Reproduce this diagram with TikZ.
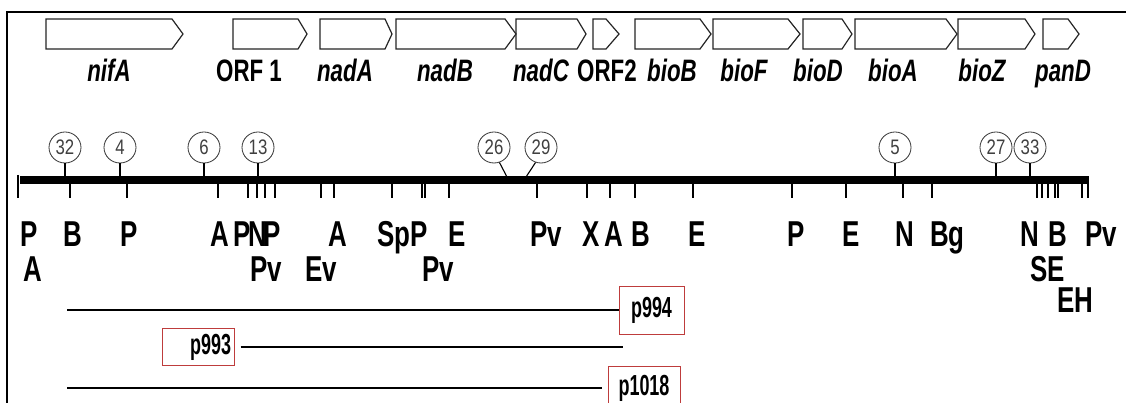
\documentclass[tikz,border=0pt]{standalone}
\usepackage{fontspec}
\setmainfont{Liberation Sans}
\newfontfamily\labfont[FakeStretch=0.72]{Liberation Sans}
\newfontfamily\plainfont{Liberation Sans}
\newfontfamily\numfont[FakeStretch=0.8]{Liberation Sans}
\newfontfamily\boxfont[FakeStretch=0.62]{Liberation Sans}
\usetikzlibrary{shapes.geometric}
\definecolor{boxred}{RGB}{190,60,60}
\begin{document}
\begin{tikzpicture}[x=1pt,y=-1pt,
 gene/.style={draw=black!85, line width=1.2pt},
 genelab/.style={anchor=base, inner sep=0, font=\labfont\fontsize{31}{33}\selectfont\bfseries\itshape},
 orflab/.style={anchor=base, inner sep=0, font=\labfont\fontsize{31}{33}\selectfont\bfseries},
 rlab/.style={anchor=base west, inner sep=0, font=\labfont\fontsize{36}{38}\selectfont\bfseries},
 site/.style={ellipse, draw=black!80, line width=0.8pt, minimum width=32pt, minimum height=31pt, inner sep=0pt, font=\numfont\fontsize{21}{22}\selectfont, text=black!75},
 stem/.style={line width=1.1pt},
 tick/.style={line width=1.2pt},
 clone/.style={line width=1.3pt},
 rbox/.style={draw=boxred, line width=1pt, fill=white, font=\boxfont\fontsize{29}{30}\selectfont\bfseries, inner sep=0pt}
]
\useasboundingbox (0,0) rectangle (1126,403);
\fill[white] (0,0) rectangle (1126,403);
% frame
\draw[line width=1.2pt] (7,403) -- (7,12) -- (1126,12);
% gene arrows: start/body end/tip
\foreach \a/\b/\c in {46/172/183, 233/298/307, 320/385/392, 396/505/516, 516/577/586, 593/606/619, 635/700/711, 713/788/800, 803/842/852, 855/946/957, 958/1025/1035, 1043/1068/1079}
  {\draw[gene] (\a,19) -- (\b,19) -- (\c,34) -- (\b,49) -- (\a,49) -- cycle;}
% gene labels
\node[genelab] (gnifA) at (109,82) {nifA};
\node[anchor=base, inner sep=0, font=\labfont\fontsize{31}{33}\selectfont\bfseries] (gorf1) at (249,82) {ORF\hspace{6pt}1};
\node[genelab] (gnadA) at (345,82) {nadA};
\node[genelab] (gnadB) at (445,82) {nadB};
\node[genelab] (gnadC) at (541,82) {nadC};
\node[orflab] (gorf2) at (607,82) {ORF2};
\node[genelab] (gbioB) at (672,82) {bioB};
\node[genelab] (gbioF) at (744,82) {bioF};
\node[genelab] (gbioD) at (818,82) {bioD};
\node[genelab] (gbioA) at (893,82) {bioA};
\node[genelab] (gbioZ) at (982,82) {bioZ};
\node[genelab] (gpanD) at (1063,82) {panD};
% map bar
\draw[line width=8pt] (20,180.5) -- (1089,180.5);
\draw[tick] (18,175) -- (18,198);
\foreach \x in {70,127,218,248,257,265,275,321,334,392,422,425,449,537,587,610,635,693,792,846,903,932,1037,1042,1048,1055,1058,1082,1088}
  {\draw[tick] (\x,184) -- (\x,198);}
% insertion sites
\foreach \n/\x in {32/65, 4/120, 6/204, 13/258, 5/895, 27/996, 33/1030}
  {\node[site] (s\n) at (\x,147.5) {\n};
   \coordinate (t\n) at (\x,177);
   \draw[stem] (s\n.south) -- (t\n);}
\node[site] (s26) at (494,147.5) {26};
\coordinate (t26) at (507,177);
\draw[stem] (s26.-70) -- (t26);
\node[site] (s29) at (541,147.5) {29};
\coordinate (t29) at (526,177);
\draw[stem] (s29.-110) -- (t29);
% restriction labels
\foreach \x/\t [count=\i] in {20/P, 63/B, 120/P, 210/A, 233/P\kern-2.5pt N\kern-3pt P, 328/A, 377/SpP, 448/E, 530/Pv, 582/X, 604/A, 631/B, 688/E, 787/P, 842/E, 895/N, 930/Bg, 1020/N, 1048/B, 1085/Pv}
  {\node[rlab] (ra\i) at (\x,247) {\t};}
\foreach \x/\t [count=\i] in {23/A, 250/Pv, 305/Ev, 422/Pv, 1030/SE}
  {\node[rlab] (rb\i) at (\x,281) {\t};}
\node[rlab] (rc1) at (1057,312) {EH};
% clones
\node[rbox, minimum width=65pt, minimum height=48pt] (p994) at (651.5,310) {p994};
\coordinate (c994) at (67,310);
\draw[clone] (c994) -- (p994.west);
\node[rbox, minimum width=72pt, minimum height=37pt, text width=66pt, inner xsep=3pt, align=right] (p993) at (198,347) {p993};
\coordinate (c993) at (623,347);
\draw[clone] ([xshift=6pt]p993.east) -- (c993);
\node[rbox, minimum width=72pt, minimum height=44pt] (p1018) at (644,388) {p1018};
\coordinate (c1018) at (67,388);
\draw[clone] (c1018) -- ([xshift=-6pt]p1018.west);
\end{tikzpicture}
\end{document}
